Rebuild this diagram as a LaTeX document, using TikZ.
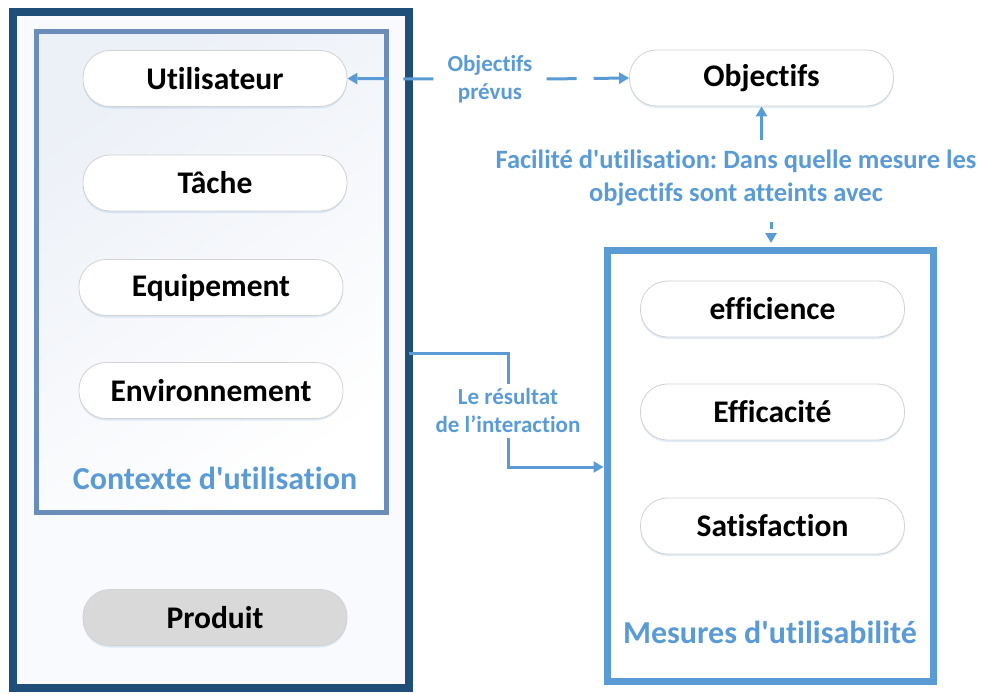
\documentclass[tikz,border=0pt]{standalone}
\usepackage{fontspec}
\setmainfont[Ligatures={NoCommon,TeXOff}]{Carlito}
\usetikzlibrary{arrows.meta,shadows}
\definecolor{darkb}{HTML}{1F4E79}
\definecolor{midb}{HTML}{6A8DB9}
\definecolor{lightb}{HTML}{5B9BD5}
\definecolor{pillgray}{HTML}{D9D9D9}
\definecolor{outerfill}{HTML}{F8FAFD}
\definecolor{innerfill}{HTML}{ECF0F7}
\frenchspacing
\begin{document}
\begin{tikzpicture}[x=1pt,y=-1pt,
  pill/.style={draw=gray!35, line width=0.8pt, fill=white, rounded corners=27pt,
    minimum width=264pt, minimum height=56pt, inner sep=0pt,
    font=\fontsize{31.5}{36}\selectfont\bfseries, text=black,
    drop shadow={opacity=0.18, shadow xshift=0pt, shadow yshift=-2pt, fill=lightb}},
  bluelabel/.style={text=lightb, font=\fontsize{32}{36}\selectfont\bfseries, inner sep=0pt},
  smalllabel/.style={text=lightb, align=center, font=\fontsize{23}{28}\selectfont\bfseries},
  conn/.style={draw=lightb, line width=3pt},
  tip/.style={-{Triangle[length=10pt,width=11pt]}},
  boxnode/.style={rectangle, inner sep=0pt}
]
\useasboundingbox (0,0) rectangle (981,693);
% outer box
\node[boxnode, draw=darkb, line width=8pt, fill=outerfill, minimum width=396pt, minimum height=676pt] (outer) at (211,350) {};
% inner box
\node[boxnode, draw=midb, line width=5pt, minimum width=350pt, minimum height=480pt,
  top color=innerfill, bottom color=white, shading angle=35] (inner) at (211,272) {};
% right box
\node[boxnode, draw=lightb, line width=7pt, fill=white, minimum width=326pt, minimum height=431pt] (right) at (770,465.5) {};

% pills
\node[pill] (util) at (215,78.5) {Utilisateur};
\node[pill] (tache) at (215,183) {Tâche};
\node[pill] (equip) at (211,287.5) {Equipement};
\node[pill] (env) at (211,390.5) {Environnement};
\node[pill, fill=pillgray] (prod) at (215,617.5) {Produit};
\node[pill] (obj) at (761.5,78) {Objectifs};
\node[pill] (eff) at (772.5,309) {efficience};
\node[pill] (effc) at (772.5,412) {Efficacité};
\node[pill] (sat) at (772.5,526) {Satisfaction};

% box titles
\node[bluelabel] (ctx) at (215,478) {Contexte d'utilisation};
\node[bluelabel] (mes) at (770,632) {Mesures d'utilisabilité};

% labels
\node[smalllabel, inner xsep=14pt, inner ysep=4pt] (objlab) at (490,79) {Objectifs\\prévus};
\node[smalllabel, font=\fontsize{26.5}{33}\selectfont\bfseries, inner xsep=2pt, inner ysep=10pt] (fac) at (736,178) {Facilité d'utilisation: Dans quelle mesure les\\objectifs sont atteints avec};
\node[smalllabel, inner xsep=2pt, inner ysep=5pt] (res) at (508,411) {Le résultat\\de l’interaction};

% connectors
\draw[conn, tip, dash pattern=on 30pt off 16pt] (objlab.west) -- (util.east);
\draw[conn, tip, dash pattern=on 30pt off 17pt] (objlab.east) -- (obj.west);
\draw[conn, tip] (obj.south |- fac.north) -- (obj.south);
\coordinate (dstart) at (771,222);
\draw[conn, tip, dash pattern=on 7pt off 4pt, shorten >=3.5pt] (dstart) -- (dstart |- right.north);
\coordinate (r1) at (409,353);
\draw[conn] (r1) -| (res.north);
\coordinate (r2) at (607,467);
\draw[conn, tip, shorten >=3.5pt] (res.south) |- (r2);
\end{tikzpicture}
\end{document}
